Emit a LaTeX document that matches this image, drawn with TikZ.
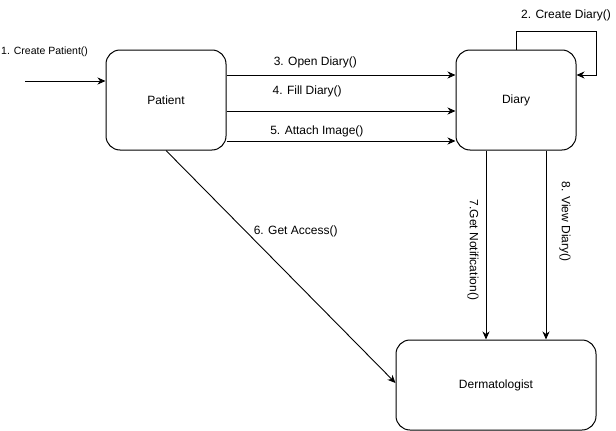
\documentclass[tikz,border=0pt]{standalone}
\usepackage{fontspec}
\setmainfont{Liberation Sans}
\usetikzlibrary{positioning, arrows.meta}
\tikzset{
    box/.style={
        draw, rounded corners = 14pt,
        line width = 1pt,
        inner sep = 0pt,
        align = center,
        font = \fontsize{12}{14}\selectfont
    },
    lbl/.style = {font = \fontsize{12}{14}\selectfont, inner sep = 1pt},
    line/.style = {-{Stealth[length=8pt, width=7pt, inset=2.5pt]}, line width = 0.9pt}
}
\begin{document}
\begin{tikzpicture}[x=1pt, y=-1pt]

    \useasboundingbox (0,0) rectangle (616,431);

    % Objects
    \node[box, minimum width = 120pt, minimum height = 100pt] (patient) at (166,100) {Patient};
    \node[box, minimum width = 120pt, minimum height = 100pt, right = 229pt of patient] (diary) {Diary};
    \node[box, minimum width = 200pt, minimum height = 90pt] (derm) at (496,385) {Dermatologist};

    % Create patient
    \coordinate (start) at (25,81);
    \draw[line] (start) -- (start -| patient.west);
    \node[lbl, font = \fontsize{10.5}{13}\selectfont, anchor = west] (createP) at (0,52) {1. Create Patient()};

    % Create diary (self call)
    \draw[line] (diary.north) |- (596,31) |- ([yshift=25pt]diary.east);
    \node[lbl] (createD) at (566,15) {2. Create Diary()};

    % Patient -> Diary
    \draw[line] ([yshift=25pt]patient.east) -- ([yshift=25pt]diary.west)
        node[lbl, pos = 0.2, anchor = west, yshift = 13pt] {3. Open Diary()};
    \draw[line] ([yshift=-11pt]patient.east) -- ([yshift=-11pt]diary.west)
        node[lbl, pos = 0.195, anchor = west, yshift = 20pt] {4. Fill Diary()};
    \draw[line] ([yshift=-41pt]patient.east) -- ([yshift=-41pt]diary.west)
        node[lbl, pos = 0.185, anchor = west, yshift = 10pt] {5. Attach Image()};

    % Patient -> Dermatologist
    \draw[line] (patient.south) -- ([yshift=2pt]derm.west)
        node[lbl, pos = 0.35, anchor = west, xshift = 6pt] {6. Get Access()};

    % Diary -> Dermatologist
    \draw[line] ([xshift=-30pt]diary.south) -- ([xshift=-30pt]diary.south |- derm.north)
        node[lbl, midway, rotate = -90, xshift = 5pt, yshift = -13pt] {7.Get Notification()};
    \draw[line] ([xshift=30pt]diary.south) -- ([xshift=30pt]diary.south |- derm.north)
        node[lbl, pos = 0.376, rotate = -90, yshift = 19pt] {8. View Diary()};

\end{tikzpicture}
\end{document}
